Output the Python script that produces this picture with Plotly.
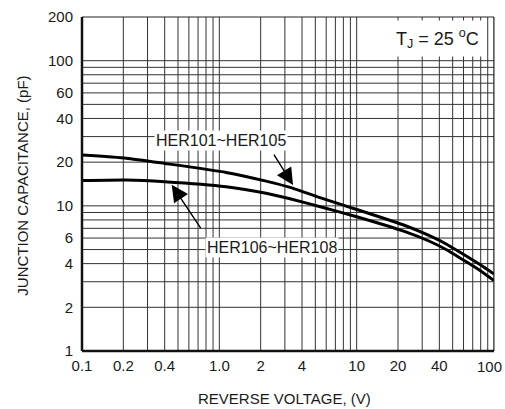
import math
import plotly.graph_objects as go

# ---- data ----
voltage = [0.1, 0.21, 0.4, 1.12, 2.19, 3.27, 5.69, 10, 22.5, 34.2, 45.5, 59.4, 79.1, 100]
cap_her101_105 = [22.4, 21.3, 19.6, 17.0, 14.8, 13.4, 11.2, 9.44, 7.32, 6.20, 5.42, 4.66, 3.94, 3.39]
cap_her106_108 = [14.95, 15.07, 14.67, 13.55, 12.2, 11.18, 9.74, 8.41, 6.64, 5.68, 4.96, 4.25, 3.59, 3.06]

x_grid = [0.2, 0.3, 0.4, 0.5, 0.6, 0.7, 0.8, 0.9, 1, 2, 3, 4, 5, 6, 7, 8, 9,
          10, 20, 30, 40, 50, 60, 70, 80, 90, 100]
x_labels = {0.1: "0.1", 0.2: "0.2", 0.4: "0.4", 1: "1.0", 2: "2", 4: "4",
            10: "10", 20: "20", 40: "40"}
x_last_label = "100"
y_grid = [2, 3, 4, 5, 6, 7, 8, 9, 10, 20, 30, 40, 50, 60, 70, 80, 90, 100]
y_labels = {1: "1", 2: "2", 4: "4", 6: "6", 10: "10", 20: "20", 40: "40",
            60: "60", 100: "100", 200: "200"}

FONT = "Liberation Sans, Arial, sans-serif"
INK = "#1a1a1a"
L = math.log10

fig = go.Figure()
for ys in (cap_her101_105, cap_her106_108):
    fig.add_trace(go.Scatter(x=voltage, y=ys, mode="lines",
                             line=dict(color="black", width=3, shape="spline", smoothing=0.5),
                             showlegend=False, hoverinfo="skip"))

shapes = []
for gx in x_grid:
    shapes.append(dict(type="line", xref="x", yref="y domain", x0=gx, x1=gx, y0=0, y1=1,
                       line=dict(color="#333", width=1), layer="below"))
for gy in y_grid:
    shapes.append(dict(type="line", xref="x domain", yref="y", x0=0, x1=1, y0=gy, y1=gy,
                       line=dict(color="#333", width=1), layer="below"))
shapes.append(dict(type="line", xref="x domain", yref="y domain", x0=0, x1=1, y0=1, y1=1,
                   line=dict(color="#222", width=1)))
shapes.append(dict(type="line", xref="x domain", yref="y domain", x0=1, x1=1, y0=0, y1=1,
                   line=dict(color="#222", width=1)))
shapes.append(dict(type="line", xref="x domain", yref="y domain", x0=0, x1=0, y0=0, y1=1,
                   line=dict(color="#111", width=2.5)))
shapes.append(dict(type="line", xref="x domain", yref="y domain", x0=0, x1=1, y0=0, y1=0,
                   line=dict(color="#111", width=2.5)))

annotations = [
    dict(x=L(1.02), y=L(28.1), xref="x", yref="y", text="HER101~HER105", showarrow=False,
         xanchor="center", yanchor="middle",
         font=dict(family=FONT, size=16, color=INK), bgcolor="white", borderpad=1),
    dict(x=L(2.4), y=L(5.2), xref="x", yref="y", text="HER106~HER108", showarrow=False,
         xanchor="center", yanchor="middle",
         font=dict(family=FONT, size=16, color=INK), bgcolor="white", borderpad=1),
    dict(x=L(3.44), y=L(13.9), xref="x", yref="y", text="", showarrow=True, ax=-20, ay=-32,
         arrowhead=2, arrowsize=2.4, arrowwidth=1.4, arrowcolor="black"),
    dict(x=L(0.45), y=L(14.0), xref="x", yref="y", text="", showarrow=True, ax=30, ay=45,
         arrowhead=2, arrowsize=2.4, arrowwidth=1.4, arrowcolor="black"),
    dict(x=0.8617, y=0.935, xref="paper", yref="paper", xanchor="center", yanchor="middle",
         text="T<sub>J</sub> = 25 <sup>o</sup>C", showarrow=False,
         font=dict(family=FONT, size=18, color=INK), bgcolor="white", borderpad=5),
    dict(x=-0.1464, y=0.494, xref="paper", yref="paper", xanchor="center", yanchor="middle",
         text="JUNCTION CAPACITANCE, (pF)",
         textangle=-90, showarrow=False, font=dict(family=FONT, size=15, color=INK)),
    dict(x=0.4927, y=-0.1437, xref="paper", yref="paper", xanchor="center", yanchor="middle",
         text="REVERSE VOLTAGE, (V)",
         showarrow=False, font=dict(family=FONT, size=15, color=INK)),
    dict(x=1, y=0, xref="paper", yref="paper", xanchor="right", yanchor="top",
         xshift=10, yshift=-5, text=x_last_label, showarrow=False,
         font=dict(family=FONT, size=15, color=INK)),
]

fig.update_layout(
    width=505, height=409,
    margin=dict(l=82, r=11, t=17, b=58, autoexpand=False),
    paper_bgcolor="white", plot_bgcolor="white",
    shapes=shapes, annotations=annotations,
    showlegend=False,
)
fig.update_xaxes(type="log", range=[-1, 2], showgrid=False, zeroline=False, showline=False,
                 tickvals=list(x_labels.keys()), ticktext=list(x_labels.values()),
                 ticks="", ticklabelstandoff=4, automargin=False,
                 tickfont=dict(family=FONT, size=15, color=INK))
fig.update_yaxes(type="log", range=[0, 2.30103], showgrid=False, zeroline=False, showline=False,
                 tickvals=list(y_labels.keys()), ticktext=list(y_labels.values()),
                 ticks="", ticklabelstandoff=8, automargin=False, ticklabeloverflow="allow",
                 tickfont=dict(family=FONT, size=15, color=INK))

fig.write_html("out.html", config={"displayModeBar": False},
               post_script="document.body.style.margin='0';document.body.style.overflow='hidden';")
